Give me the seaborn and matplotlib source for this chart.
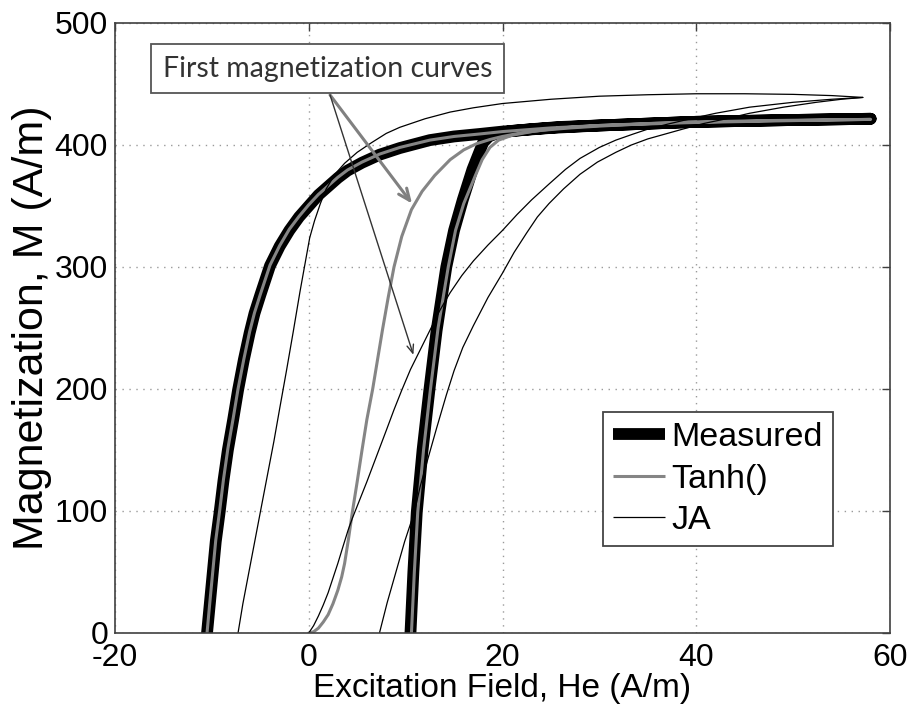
import numpy as np
import pandas as pd
import matplotlib
matplotlib.use('Agg')
import matplotlib.pyplot as plt
import seaborn as sns

# ---------------- data ----------------
# Measured loop: ascending branch, then descending branch
meas_asc_H = [10.5, 10.8, 11.15, 11.75, 12.45, 13.2, 14.2, 15.0, 15.9, 16.9, 18.0, 18.6, 19.4, 21.0, 23.0, 26.0, 30.0, 40.0, 50.0, 58.0]
meas_asc_M = [0, 50, 99, 150, 199, 248, 300, 330, 355, 380, 402, 407, 409.5, 411.5, 413, 414.8, 416, 419, 420.5, 421.5]
meas_desc_H = [58, 50, 40, 30, 25, 20, 17.6, 15, 12.5, 9.4, 7.3, 5.5, 4, 3, 2, 1, 0, -1, -2, -3, -4, -5, -5.6,
               -6.1, -6.7, -7.3, -7.8, -8.35, -8.8, -9.2, -9.6, -9.9, -10.2, -10.5]
meas_desc_M = [421.5, 420.5, 419, 416, 414, 411, 409, 407, 404, 397.5, 392, 385.5, 379, 373, 366, 359, 350, 341, 330, 317, 301, 277, 262,
               246, 224, 199, 175, 150, 125, 99, 75, 50, 25, 0]

# Tanh() model
tanh_asc_H = [10.6, 10.9, 11.25, 11.85, 12.55, 13.35, 14.4, 15.15, 16.0, 17.2, 17.9, 18.7, 19.6, 21.0, 23.0, 26.0, 30.0, 38.0, 47.0, 58.0]
tanh_asc_M = [0, 50, 99, 150, 199, 250, 300, 330, 352, 375, 388, 398, 404, 408, 411, 414, 416, 418.5, 420, 421]
tanh_desc_H = [58, 50, 40, 30, 25, 20, 17.6, 15, 12.5, 9.4, 7.3, 5.5, 4, 3, 2, 1, 0, -1, -2, -3, -4, -5, -5.6,
               -6.1, -6.7, -7.3, -7.8, -8.35, -8.8, -9.2, -9.6, -9.9, -10.2, -10.5]
tanh_desc_M = [421, 420, 418.5, 416, 414, 411, 409, 407, 404, 398, 392.5, 386, 379.5, 373.5, 366.5, 359.5, 351, 341.5, 331, 317.5, 301.5, 277.5, 262.5,
               247, 224.5, 200, 176, 151, 126, 100, 76, 51, 26, 0]
tanh_init_H = [0, 0.5, 1, 1.5, 2, 2.5, 3, 3.4, 3.7, 4.1, 4.5, 5, 5.5, 6.0, 6.6, 7.1, 7.6, 8.2, 8.8, 9.6, 10.6,
               11.7, 13.0, 14.6, 16.0, 17.3, 18.7, 20, 22, 24, 27, 30, 35, 40]
tanh_init_M = [0, 1, 4, 9, 15, 24, 35, 46, 57, 77, 99, 124, 150, 175, 200, 224, 248, 275, 300, 325, 347,
               362, 375, 388, 396, 401, 404.5, 407, 410, 412, 414, 415.5, 417.5, 419]

# JA model
ja_asc_H = [7.3, 8.1, 9.0, 9.9, 10.9, 11.5, 12.2, 13.2, 14.2, 15.0, 15.9, 17.0, 18.5, 20, 21.2, 22.5, 23.6, 24.8, 26.3,
            28, 29.8, 31.7, 33.3, 35, 36.8, 38.6, 40.7, 42.8, 45.5, 49, 52.4, 55, 57.2]
ja_asc_M = [0, 25, 50, 75, 99, 120, 140, 168, 195, 215, 234, 252, 275, 295, 312, 328, 341, 352, 364,
            376, 386, 394, 400, 405, 409, 413, 417.5, 421, 426, 431, 435, 437.5, 439]
ja_desc_H = [57.2, 54, 50, 45, 40, 35, 30, 25, 20, 17, 14.6, 12, 9.4, 8, 6.5, 5, 3.7, 2.7, 1.8, 1.2, 0.6, 0.1,
             -0.4, -0.9, -1.6, -2.3, -3.0, -3.6, -4.3, -5.0, -5.6, -6.2, -6.8, -7.3]
ja_desc_M = [439, 440.5, 441.5, 442, 442, 441.2, 440, 437.5, 434, 430.5, 427, 421.5, 414.5, 409.5, 402, 394, 385, 376, 364, 352, 338, 324,
             302, 280, 247, 215, 184, 157, 128, 99, 74, 49, 24, 0]
ja_init_H = [0, 0.5, 1, 1.5, 2, 2.5, 3, 3.5, 4.05, 4.5, 5, 6, 7, 8, 8.8, 9.6, 10.5, 11.5, 12.5, 13.5, 14.6, 15.8, 17,
             18.5, 20, 21.5, 23, 24.8, 26.5, 28, 30, 31.7, 33.5, 35, 37, 38.6, 40, 42, 45.5, 50, 54, 57.2]
ja_init_M = [0, 6, 14, 23, 33, 45, 57, 70, 84, 94, 104, 124, 145, 166, 183, 199, 216, 232, 248, 264, 279, 293, 305,
             318, 330, 343, 355, 368, 380, 389, 398, 404, 409, 413, 417, 420, 422.5, 426, 431, 435, 437.5, 439]

series_labels = ['Measured', 'Tanh()', 'JA']
x_ticks = [-20, 0, 20, 40, 60]
y_ticks = [0, 100, 200, 300, 400, 500]
annot_text = 'First magnetization curves'
annot_pos = (1.94, 462.7)
arrow_origin = (2.2, 441)
arrow_tanh_tip = (10.66, 352)
arrow_ja_tip = (10.8, 228)

# ---------------- style ----------------
sns.set_theme(style='white')
plt.rcParams['font.family'] = ['Liberation Sans', 'DejaVu Sans']
plt.rcParams['axes.unicode_minus'] = False

fig = plt.figure(figsize=(9.13, 7.14), dpi=100)
ax = fig.add_axes([115 / 913, 1 - 633 / 714, 775 / 913, 610 / 714])


def draw(H, M, **kw):
    df = pd.DataFrame({'H': H, 'M': M})
    sns.lineplot(data=df, x='H', y='M', sort=False, estimator=None,
                 legend=False, ax=ax, **kw)
    return ax.lines[-1]


meas_line = draw(meas_asc_H + meas_desc_H, meas_asc_M + meas_desc_M,
                 color='black', linewidth=8.5,
                 solid_capstyle='round', solid_joinstyle='round')

tanh_line = draw(tanh_asc_H + tanh_desc_H, tanh_asc_M + tanh_desc_M,
                 color='#858585', linewidth=2.2, solid_joinstyle='round')
draw(tanh_init_H, tanh_init_M, color='#858585', linewidth=2.2,
     solid_joinstyle='round')

ja_line = draw(ja_asc_H + ja_desc_H, ja_asc_M + ja_desc_M,
               color='black', linewidth=0.9)
draw(ja_init_H, ja_init_M, color='black', linewidth=0.9)

# axes
ax.set_xlim(x_ticks[0], x_ticks[-1])
ax.set_ylim(y_ticks[0], y_ticks[-1])
ax.set_xticks(x_ticks)
ax.set_yticks(y_ticks)
ax.grid(True, linestyle=(0, (1, 4)), color='#9a9a9a', linewidth=1.0)
for s in ax.spines.values():
    s.set_color('#404040')
    s.set_linewidth(1.2)
ax.tick_params(direction='in', length=6, width=1, color='#404040',
               top=True, right=True, labelsize=23, labelcolor='black')
ax.tick_params(axis='x', pad=7)
ax.tick_params(axis='y', pad=5)
ax.set_xlabel('Excitation Field, He (A/m)', fontsize=24, labelpad=0, color='black')
ax.set_ylabel('Magnetization, M (A/m)', fontsize=31, labelpad=2, color='black')

# annotation box and arrows
ax.text(annot_pos[0], annot_pos[1], annot_text, family=['Lato', 'DejaVu Sans'],
        fontsize=20.5, color='#333333', ha='center', va='center', zorder=5,
        bbox=dict(boxstyle='square,pad=0.4', fc='white', ec='#555555', lw=1.3))
ax.annotate('', xy=arrow_tanh_tip, xytext=arrow_origin,
            arrowprops=dict(arrowstyle='->,head_length=0.7,head_width=0.3',
                            color='#808080', lw=2.2, shrinkA=0, shrinkB=0))
ax.annotate('', xy=arrow_ja_tip, xytext=arrow_origin,
            arrowprops=dict(arrowstyle='->,head_length=0.5,head_width=0.2',
                            color='#333333', lw=1.0, shrinkA=0, shrinkB=0))

# legend
leg = ax.legend([meas_line, tanh_line, ja_line], series_labels,
                loc='upper left', bbox_to_anchor=(0.630, 0.362),
                borderaxespad=0, fontsize=24.5, handlelength=1.5,
                handletextpad=0.2, borderpad=0.3, labelspacing=0.3,
                fancybox=False, framealpha=1, edgecolor='#444444')
leg.get_frame().set_linewidth(1.3)
for h in leg.legend_handles:
    h.set_solid_capstyle('butt')
for t in leg.get_texts():
    t.set_color('black')

fig.savefig('out.png', dpi=100)
